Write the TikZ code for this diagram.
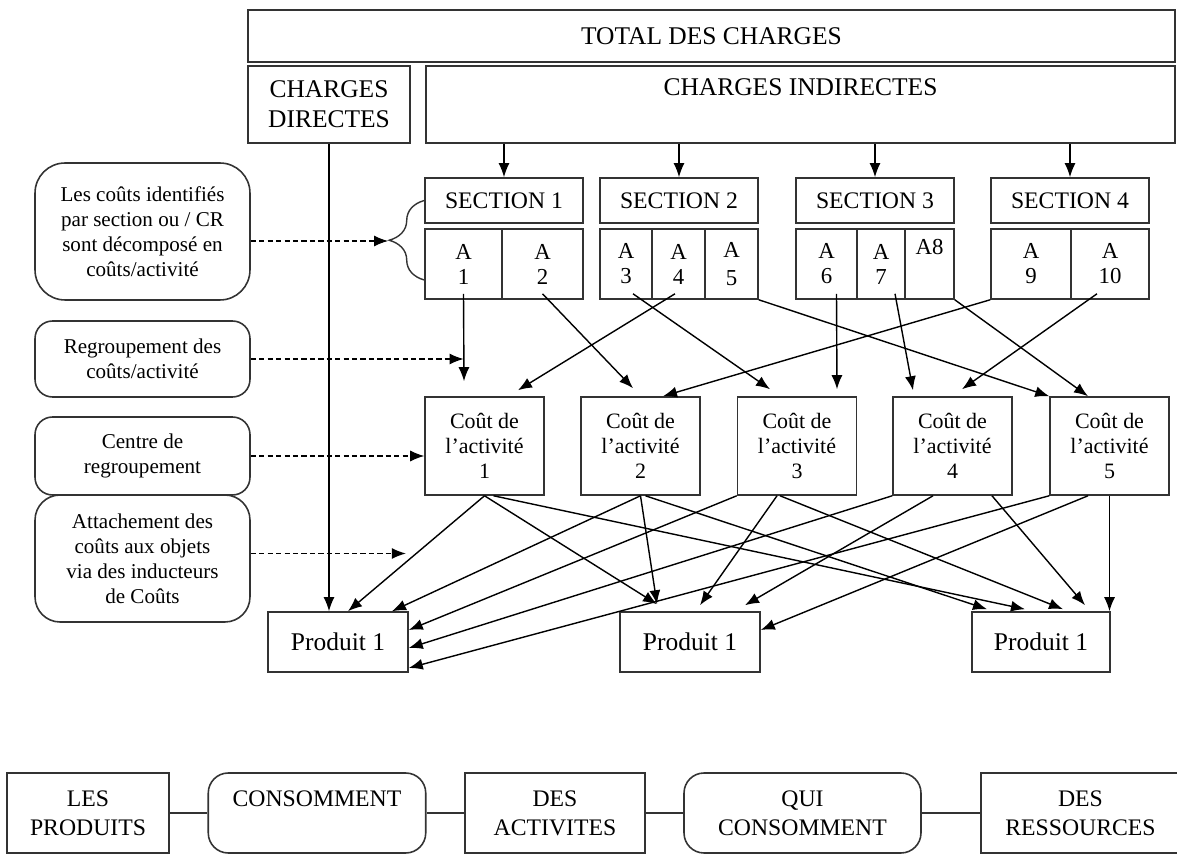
\documentclass[tikz,border=0pt]{standalone}
\usepackage{fontspec}
\setmainfont{Liberation Serif}
\usepackage{tikz}
\usetikzlibrary{positioning,calc,arrows.meta,decorations.pathreplacing}

\begin{document}
\begin{tikzpicture}[x=0.02cm,y=-0.02cm]
\tikzstyle{box}=[rectangle, draw=black!80, line width=0.9pt, inner sep=0pt, align=center]
\tikzstyle{big}=[font=\fontsize{14.5}{17}\selectfont]
\tikzstyle{note}=[box, rounded corners=3.5mm, minimum width=4.3cm, font=\fontsize{12}{14.2}\selectfont]
\tikzstyle{sect}=[box, minimum width=3.16cm, minimum height=0.9cm, font=\fontsize{13.5}{16}\selectfont]
\tikzstyle{cell}=[box, minimum height=1.4cm, font=\fontsize{13}{14.2}\selectfont]
\tikzstyle{cost}=[box, minimum width=2.38cm, minimum height=1.96cm, font=\fontsize{12.5}{14.2}\selectfont]
\tikzstyle{prod}=[box, big, minimum height=1.2cm]
\tikzstyle{chain}=[box, minimum height=1.6cm, font=\fontsize{13.5}{16.5}\selectfont]
\tikzstyle{connect}=[-{Latex[length=2.8mm,width=2.2mm]}, line width=0.8pt]
\tikzstyle{hint}=[connect, line width=0.6pt, dash pattern=on 3pt off 1.8pt]
\useasboundingbox (0,0) rectangle (1177,854);
\clip (0,0) rectangle (1177,854);

% charges
\node[box, big, minimum width=18.54cm, minimum height=1.04cm] (total) at (711.5,36) {TOTAL DES CHARGES};
\node[box, big, minimum width=3.24cm, minimum height=1.54cm] (cd) at (329,104.5) {CHARGES\\DIRECTES};
\node[box, minimum width=14.98cm, minimum height=1.54cm,
  label={[big, anchor=north, yshift=-1.5mm]north:CHARGES INDIRECTES}] (ci) at (800.5,104.5) {};

% sections
\node[sect] (s1) at (504,200.5) {SECTION 1};
\node[sect] (s2) at (679,200.5) {SECTION 2};
\node[sect] (s3) at (875,200.5) {SECTION 3};
\node[sect] (s4) at (1070,200.5) {SECTION 4};
\foreach \s in {s1,s2,s3,s4}
  \draw[connect] (ci.south -| \s.north) -- (\s.north);

% activities
\node[cell, minimum width=1.54cm] (a1) at (463.5,264) {A\\1};
\node[cell, minimum width=1.62cm] (a2) at (542.5,264) {A\\2};
\node[cell, minimum width=1.04cm] (a3) at (626,264) {A\\3};
\node[cell, minimum width=1.06cm] (a4) at (678.5,264) {A\\4};
\node[cell, minimum width=1.06cm] (a5) at (731.5,264) {A\\[2pt]5};
\node[cell, minimum width=1.22cm] (a6) at (826.5,264) {A\\6};
\node[cell, minimum width=0.96cm] (a7) at (881,264) {A\\7};
\node[cell, minimum width=0.98cm,
  label={[font=\fontsize{13}{14.2}\selectfont, anchor=north, yshift=-1mm]north:A8}] (a8) at (929.5,264) {};
\node[cell, minimum width=1.6cm] (a9) at (1031,264) {A\\9};
\node[cell, minimum width=1.56cm] (a10) at (1110,264) {A\\10};

% cost pools
\node[cost] (c1) at (484.5,446) {Coût de\\l’activité\\1};
\node[cost] (c2) at (640.5,446) {Coût de\\l’activité\\2};
\node[cost] (c3) at (797,446) {Coût de\\l’activité\\3};
\node[cost] (c4) at (952.5,446) {Coût de\\l’activité\\4};
\node[cost] (c5) at (1109.5,446) {Coût de\\l’activité\\5};

\draw[connect] ($(a1.south)+(0,-6)$) -- ($(c1.north)+(-20.5,-15)$);
\draw[connect] ($(a2.south)+(0,-6)$) -- ($(c2.north)+(-7.5,-8)$);
\draw[connect] ($(a3.south)+(7,-6)$) -- ($(c3.north)+(-27,-7)$);
\draw[connect] ($(a4.south)+(-3.5,-6)$) -- ($(c1.north)+(33.5,-6)$);
\draw[connect] (a5.south east) -- (c5.north west);
\draw[connect] ($(a6.south)+(10,-6)$) -- ($(c3.north)+(40,-7)$);
\draw[connect] ($(a7.south)+(14,-6)$) -- ($(c4.north)+(-39.5,-6)$);
\draw[connect] (a8.south east) -- ($(c5.north)+(-21.5,0)$);
\draw[connect] (a9.south west) -- ($(c2.north)+(22.5,0)$);
\draw[connect] ($(a10.south)+(-13,-6)$) -- ($(c4.north)+(9.5,-7)$);

% products
\node[prod, minimum width=2.8cm] (p1) at (338,642) {Produit 1};
\node[prod, minimum width=2.8cm] (p2) at (690,642) {Produit 1};
\node[prod, minimum width=2.76cm] (p3) at (1041,642) {Produit 1};

\draw[connect] (cd.south) -- (cd.south |- p1.north);
\draw[connect] (c1.south) -- ($(p1.north)+(10,0)$);
\draw[connect] (c1.south) -- ($(p2.north)+(-33,-7)$);
\draw[connect] ($(c1.south)+(9,0)$) -- ($(p3.north)+(-16,-2)$);
\draw[connect] (c2.south) -- ($(p1.north)+(54,0)$);
\draw[connect] (c2.south) -- ($(p2.north)+(-33,-7)$);
\draw[connect] ($(c2.south)+(5,0)$) -- ($(p3.north)+(-54,-2)$);
\draw[connect] (c3.south west) -- ($(p1.east)+(0,-12)$);
\draw[connect] ($(c3.south)+(-20,0)$) -- ($(p2.north)+(10,-6)$);
\draw[connect] ($(c3.south)+(-17,0)$) -- ($(p3.north)+(22,-2)$);
\draw[connect] (c4.south west) -- ($(p1.east)+(0,6)$);
\draw[connect] ($(c4.south)+(-19.5,0)$) -- ($(p2.north)+(55,-6)$);
\draw[connect] ($(c4.south)+(39.5,0)$) -- ($(p3.north)+(44,-6)$);
\draw[connect] (c5.south west) -- ($(p1.east)+(0,26)$);
\draw[connect] ($(c5.south)+(-21.5,0)$) -- ($(p2.east)+(0,-12)$);
\draw[connect] (c5.south) -- (c5.south |- p3.north);

% explanations
\node[note, minimum height=2.74cm, rounded corners=6mm] (l1) at (142.5,231.5)
  {Les coûts identifiés\\par section ou / CR\\sont décomposé en\\coûts/activité};
\node[note, minimum height=1.52cm] (l2) at (142.5,359) {Regroupement des\\coûts/activité};
\node[note, minimum height=1.56cm] (l3) at (142.5,456) {Centre de\\regroupement};
\node[note, minimum height=2.54cm, rounded corners=5mm] (l4) at (142.5,558.5)
  {Attachement des\\coûts aux objets\\via des inducteurs\\de Coûts};

\coordinate (low) at ($(a1.west)+(0,16)$);
\draw[decorate, decoration={brace, amplitude=7mm}, line width=0.8pt, black!80] (low) -- (s1.west);
\coordinate (tip) at (388,241);
\draw[hint] (l1.east |- tip) -- (tip);
\draw[hint] (l2.east) -- (l2.east -| a1.south);
\draw[hint] (l3.east) -- (l3.east -| c1.west);
\draw[hint] ($(l4.east)+(0,-5)$) -- ($(l4.east -| p1.east)+(-3,-5)$);

% chain
\node[chain, minimum width=3.23cm] (b1) at (88,813) {LES\\PRODUITS};
\node[chain, minimum width=4.35cm, rounded corners=4mm,
  label={[font=\fontsize{13.5}{16.5}\selectfont, anchor=north, yshift=-2.4mm]north:CONSOMMENT}] (b2) at (317,813) {};
\node[chain, minimum width=3.6cm] (b3) at (555,813) {DES\\ACTIVITES};
\node[chain, minimum width=4.74cm, rounded corners=4mm] (b4) at (802.5,813) {QUI\\CONSOMMENT};
\node[chain, minimum width=3.98cm] (b5) at (1080.5,813) {DES\\RESSOURCES};
\draw[line width=0.9pt, black!80] (b1) -- (b2) (b2) -- (b3) (b3) -- (b4) (b4) -- (b5);
\end{tikzpicture}
\end{document}
